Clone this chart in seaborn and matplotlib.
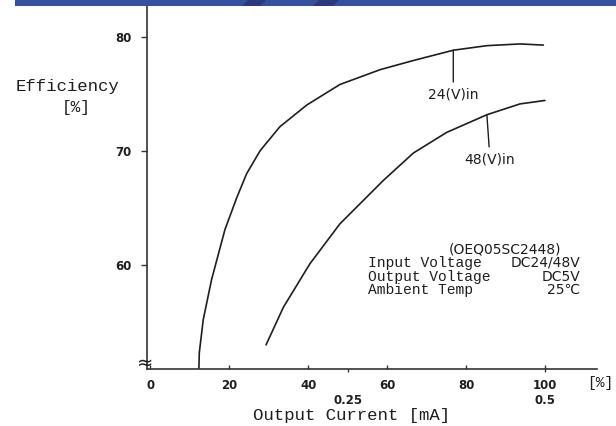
import matplotlib
matplotlib.use("Agg")
import matplotlib.pyplot as plt
import seaborn as sns
import pandas as pd
from matplotlib.patches import Rectangle, Polygon
from matplotlib.ticker import FixedLocator, FixedFormatter

# ---- data ----
x_24v = [12.3, 12.4, 13.4, 15.5, 18.9, 21.9, 24.4, 27.8, 32.8, 39.6, 48.0, 58.2, 66.6, 76.7, 85.2, 93.6, 99.5]
eff_24v = [50.9, 52.3, 55.2, 58.7, 63.1, 65.9, 68.0, 70.0, 72.1, 74.0, 75.8, 77.1, 77.9, 78.8, 79.2, 79.35, 79.25]
x_48v = [29.3, 33.7, 40.4, 48.0, 59.0, 66.6, 75.0, 85.2, 93.6, 99.9]
eff_48v = [53.0, 56.3, 60.1, 63.6, 67.4, 69.8, 71.6, 73.15, 74.1, 74.4]

pct_ticks = [0, 20, 40, 60, 80, 100]
pct_labels = ["0", "20", "40", "60", "80", "100"]
ma_ticks = [50, 100]
ma_labels = ["0.25", "0.5"]
eff_ticks = [60, 70, 80]
eff_labels = ["60", "70", "80"]

curve_labels = ["24(V)in", "48(V)in"]
spec_title = "(OEQ05SC2448)"
spec_names = ["Input Voltage", "Output Voltage", "Ambient Temp"]
spec_values = ["DC24/48V", "DC5V", "25℃"]

W, H = 616, 426
MONO = "Liberation Mono"
SANS = ["DejaVu Sans", "Noto Sans CJK JP"]
INK = "#1e1e1e"

sns.set_style("white")
plt.rcParams["font.family"] = SANS
plt.rcParams["lines.solid_joinstyle"] = "round"

fig = plt.figure(figsize=(W / 100, H / 100), dpi=100)
fig.patch.set_facecolor("white")
left_px, right_px, bottom_px, top_px = 146.7, 596.7, 368.5, 5.0
ax = fig.add_axes([left_px / W, 1 - bottom_px / H,
                   (right_px - left_px) / W, (bottom_px - top_px) / H])

df24 = pd.DataFrame({"load": x_24v, "eff": eff_24v})
df48 = pd.DataFrame({"load": x_48v, "eff": eff_48v})
sns.lineplot(data=df24, x="load", y="eff", color=INK, linewidth=1.2, ax=ax,
             estimator=None, sort=False)
sns.lineplot(data=df48, x="load", y="eff", color=INK, linewidth=1.2, ax=ax,
             estimator=None, sort=False)

ax.set_xlim(-0.91, 113.0)
ax.set_ylim(50.93, 82.76)

for s in ["top", "right"]:
    ax.spines[s].set_visible(False)
for s in ["left", "bottom"]:
    ax.spines[s].set_color("#333333")
    ax.spines[s].set_linewidth(1.2)

tick_font = dict(family=SANS, size=8.5, weight="bold")
ax.xaxis.set_major_locator(FixedLocator(pct_ticks))
ax.xaxis.set_major_formatter(FixedFormatter(pct_labels))
ax.xaxis.set_minor_locator(FixedLocator(ma_ticks))
ax.xaxis.set_minor_formatter(FixedFormatter(ma_labels))
ax.xaxis.remove_overlapping_locs = False
ax.tick_params(axis="x", which="major", direction="in", length=3.2, width=1,
               color="#333333", pad=7.5, bottom=True)
ax.tick_params(axis="x", which="minor", direction="out", length=2.4, width=1,
               color="#333333", pad=16, bottom=True)
for lab in ax.get_xticklabels(which="both"):
    lab.set_fontproperties(tick_font)
    lab.set_color(INK)

ax.set_yticks(eff_ticks)
ax.set_yticklabels(eff_labels)
ax.tick_params(axis="y", which="major", direction="out", length=4.3, width=1,
               color="#333333", pad=6.5, left=True)
for lab in ax.get_yticklabels():
    lab.set_fontproperties(tick_font)
    lab.set_color(INK)

# axis labels
ax.set_xlabel("Output Current [mA]", family=MONO, size=12.5, color=INK, va="top")
ax.xaxis.set_label_coords(0.456, -0.109)
ax.set_ylabel("Efficiency", family=MONO, size=12.5, color=INK, rotation=0,
              ha="center", va="center")
ax.yaxis.set_label_coords(-0.176, 0.777)
ax.text(-0.157, 0.717, "[%]", transform=ax.transAxes, family=MONO, size=11.5,
        color=INK, ha="center", va="center")
ax.annotate("[%]", xy=(1, 0), xycoords="axes fraction", xytext=(2.3, -10.4),
            textcoords="offset points", family=MONO, size=10.5, color=INK,
            ha="center", va="center", annotation_clip=False)

# break mark on the y axis
ax.text(-0.004, 0.015, "≈", transform=ax.transAxes, size=14, color=INK,
        ha="center", va="center", clip_on=False)

# curve labels with leader lines
ax.annotate(curve_labels[0], xy=(x_24v[13], eff_24v[13]), xytext=(x_24v[13], 74.88),
            ha="center", va="center", size=10, color=INK,
            arrowprops=dict(arrowstyle="-", color=INK, lw=1.0, shrinkA=2, shrinkB=0))
ax.annotate(curve_labels[1], xy=(x_48v[7], eff_48v[7]), xytext=(86.0, 69.19),
            ha="center", va="center", size=10, color=INK,
            arrowprops=dict(arrowstyle="-", color=INK, lw=1.0, shrinkA=2, shrinkB=0))

# specification block
ax.text(89.7, 61.35, spec_title, ha="center", va="center", size=10, color=INK)
rows_y = [60.17, 58.97, 57.78]
for name, val, yy in zip(spec_names, spec_values, rows_y):
    ax.text(55.2, yy, name, ha="left", va="center", family=MONO, size=10.5, color=INK)
    ax.text(108.9, yy, val, ha="right", va="center", family=SANS, size=10, color=INK)

# decorative blue header bar
def px(xp, yp):
    return (xp / W, 1 - yp / H)

fig.patches.append(Rectangle(px(15, 6), (W - 15) / W, 6 / H, transform=fig.transFigure,
                             facecolor="#3550a0", edgecolor="none", zorder=10))
for poly in ([(242, 6), (248, 0), (266, 0), (260, 6)],
             [(313, 6), (319, 0), (339, 0), (333, 6)]):
    fig.patches.append(Polygon([px(a, b) for a, b in poly], closed=True,
                               transform=fig.transFigure, facecolor="#2b3a7e",
                               edgecolor="none", zorder=11))

fig.savefig("out.png", dpi=100)
